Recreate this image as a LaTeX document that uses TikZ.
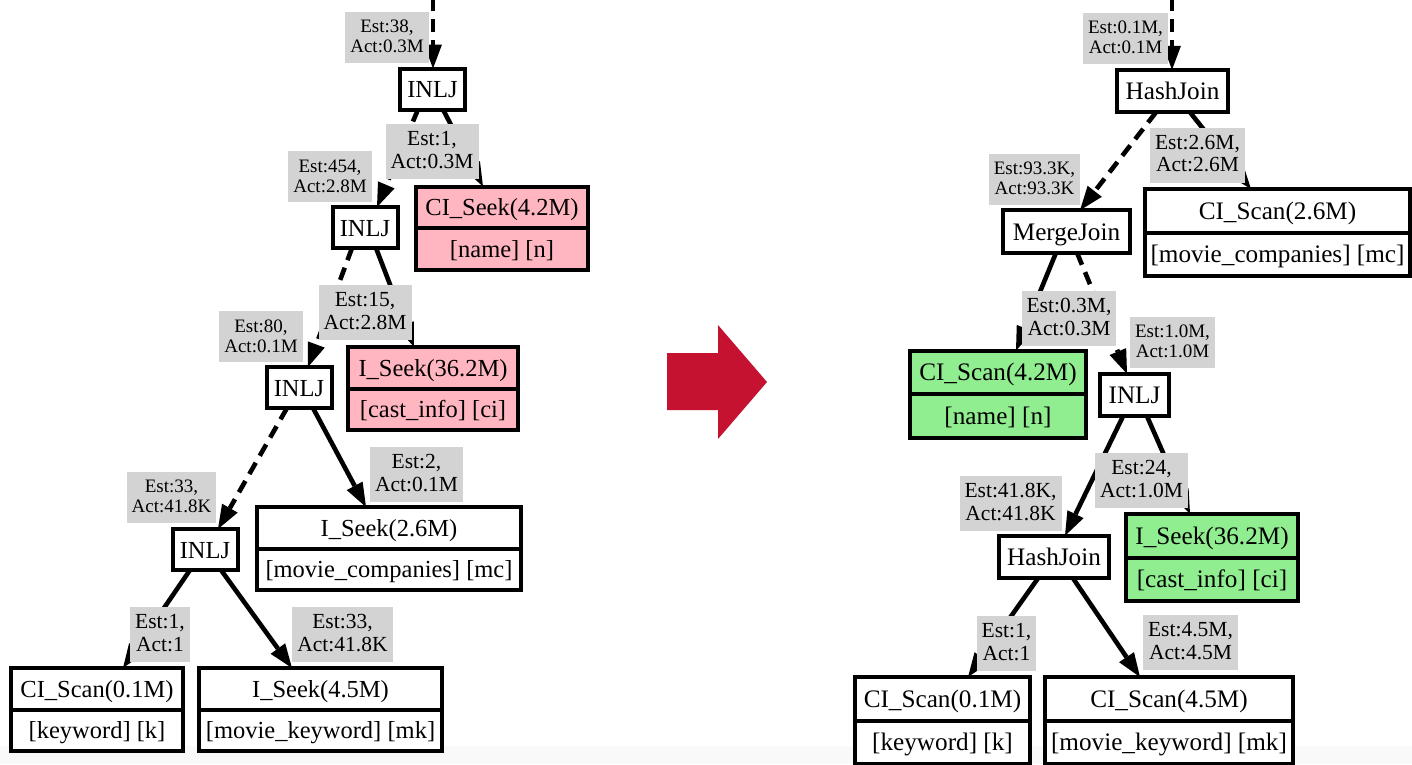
\documentclass[tikz,border=0pt]{standalone}
\usepackage{fontspec}
\setmainfont{Liberation Serif}
\newfontfamily\planfont{Liberation Serif}
\usetikzlibrary{arrows.meta}

\definecolor{seekpink}{HTML}{FFB6C1}
\definecolor{scangreen}{HTML}{90EE90}
\definecolor{estgray}{HTML}{D3D3D3}
\definecolor{turnred}{HTML}{C41230}
\definecolor{footgray}{HTML}{F9F9F9}

% struts that fix the first-line height and last-line depth of the estimate labels
\newcommand{\estrowS}{\rule[-1.4pt]{0pt}{14pt}}
\newcommand{\estrowL}{\rule[-3pt]{0pt}{15pt}}

\begin{document}
\begin{tikzpicture}[x=1pt, y=-1pt,
  box/.style={draw=black, line width=4pt, fill=white, inner sep=0pt, outer sep=0pt,
              text height=20pt, text depth=3pt},
  opL/.style={box, minimum width=65pt, minimum height=41pt, font=\planfont\fontsize{24.5}{26}\selectfont},
  opR/.style={box, minimum width=#1, minimum height=42.5pt, font=\planfont\fontsize{25.2}{27}\selectfont},
  recL/.style={box, minimum width=#1, minimum height=41.5pt, font=\planfont\fontsize{24.5}{26}\selectfont},
  recR/.style={box, minimum width=#1, minimum height=43.5pt, font=\planfont\fontsize{25.2}{27}\selectfont},
  est/.style={fill=estgray, inner xsep=5pt, inner ysep=0pt, align=center, text=black},
  estS/.style={est, minimum height=51pt, font=\planfont\fontsize{19}{20}\selectfont},
  estL/.style={est, minimum height=55pt, font=\planfont\fontsize{21.5}{22.5}\selectfont},
  flow/.style={line width=4.6pt, -{Triangle[length=24pt, width=18pt, line width=0pt]}},
  inner/.style={flow, dash pattern=on 13pt off 8pt}
]
\fill[white] (0,0) rectangle (1412,764);
\fill[footgray] (0,746) rectangle (1412,764);
\useasboundingbox (0,0) rectangle (1412,764);
\clip (0,0) rectangle (1412,764);

% ---------------- left plan ----------------
\node[opL] (inljA) at (432.5,89) {INLJ};
\node[opL] (inljB) at (365,227.5) {INLJ};
\node[opL] (inljC) at (299,387.5) {INLJ};
\node[opL] (inljD) at (205,549.5) {INLJ};

\node[recL=172pt, fill=seekpink] (nameSeek) at (502,207.25) {CI\_Seek(4.2M)};
\node[recL=172pt, fill=seekpink, anchor=north] (nameSeekT) at (nameSeek.south) {[name] [n]};
\node[recL=170pt, fill=seekpink] (castSeek) at (433,367.75) {I\_Seek(36.2M)};
\node[recL=170pt, fill=seekpink, anchor=north] (castSeekT) at (castSeek.south) {[cast\_info] [ci]};
\node[recL=264pt] (mcSeek) at (389,527.75) {I\_Seek(2.6M)};
\node[recL=264pt, anchor=north] (mcSeekT) at (mcSeek.south) {[movie\_companies] [mc]};
\node[recL=172pt] (kwScanL) at (97,688.75) {CI\_Scan(0.1M)};
\node[recL=172pt, anchor=north] (kwScanLT) at (kwScanL.south) {[keyword] [k]};
\node[recL=243pt] (mkSeek) at (320.5,688.75) {I\_Seek(4.5M)};
\node[recL=243pt, anchor=north] (mkSeekT) at (mkSeek.south) {[movie\_keyword] [mk]};

\coordinate (feedL) at (433,-2);
\draw[inner] (feedL) -- ([xshift=0.5pt]inljA.north);
\draw[flow]  ([xshift=10.5pt]inljA.south) -- ([xshift=-19pt]nameSeek.north);
\draw[inner] ([xshift=-14.5pt]inljA.south) -- ([xshift=12pt]inljB.north);
\draw[flow]  ([xshift=11pt]inljB.south) -- ([xshift=-19pt]castSeek.north);
\draw[inner] ([xshift=-13pt]inljB.south) -- ([xshift=9pt]inljC.north);
\draw[flow]  ([xshift=14pt]inljC.south) -- ([xshift=-23pt]mcSeek.north);
\draw[inner] ([xshift=-12pt]inljC.south) -- ([xshift=13pt]inljD.north);
\draw[flow]  ([xshift=-15pt]inljD.south) -- ([xshift=26pt]kwScanL.north);
\draw[flow]  ([xshift=16pt]inljD.south) -- ([xshift=-28.5pt]mkSeek.north);

\node[estS] (estA) at (387,37)      {\estrowS Est:38,\\\estrowS Act:0.3M};
\node[estL] (estB) at (432,151.5)   {\estrowL Est:1,\\\estrowL Act:0.3M};
\node[estS] (estC) at (330,176.5)   {\estrowS Est:454,\\\estrowS Act:2.8M};
\node[estL] (estD) at (365,312.5)   {\estrowL Est:15,\\\estrowL Act:2.8M};
\node[estS] (estE) at (261,336.5)   {\estrowS Est:80,\\\estrowS Act:0.1M};
\node[estL] (estF) at (416.5,474.5) {\estrowL Est:2,\\\estrowL Act:0.1M};
\node[estS] (estG) at (171.5,497)   {\estrowS Est:33,\\\estrowS Act:41.8K};
\node[estL] (estH) at (160,634.5)   {\estrowL Est:1,\\\estrowL Act:1};
\node[estL] (estI) at (342.5,634.5) {\estrowL Est:33,\\\estrowL Act:41.8K};

% ---------------- rewrite arrow ----------------
\fill[turnred] (667,353) -- (718,353) -- (718,325) -- (767,382) -- (718,439) -- (718,410) -- (667,410) -- cycle;

% ---------------- right plan ----------------
\node[opR=111pt] (hashA) at (1172.5,91) {HashJoin};
\node[opR=127pt] (merge) at (1066.5,231.5) {MergeJoin};
\node[opR=69pt]  (inljR) at (1134.5,395) {INLJ};
\node[opR=110pt] (hashB) at (1054,557) {HashJoin};

\node[recR=265pt] (mcScan) at (1277.5,210.75) {CI\_Scan(2.6M)};
\node[recR=265pt, anchor=north] (mcScanT) at (mcScan.south) {[movie\_companies] [mc]};
\node[recR=176pt, fill=scangreen] (nameScan) at (998,372.25) {CI\_Scan(4.2M)};
\node[recR=176pt, fill=scangreen, anchor=north] (nameScanT) at (nameScan.south) {[name] [n]};
\node[recR=172pt, fill=scangreen] (castSeekR) at (1212,535.75) {I\_Seek(36.2M)};
\node[recR=172pt, fill=scangreen, anchor=north] (castSeekRT) at (castSeekR.south) {[cast\_info] [ci]};
\node[recR=175pt] (kwScanR) at (942.5,698.75) {CI\_Scan(0.1M)};
\node[recR=175pt, anchor=north] (kwScanRT) at (kwScanR.south) {[keyword] [k]};
\node[recR=248pt] (mkScan) at (1169,698.75) {CI\_Scan(4.5M)};
\node[recR=248pt, anchor=north] (mkScanT) at (mkScan.south) {[movie\_keyword] [mk]};

\coordinate (feedR) at (1172,-2);
\draw[inner] (feedR) -- ([xshift=-0.5pt]hashA.north);
\draw[inner] ([xshift=-16.5pt]hashA.south) -- ([xshift=13.5pt]merge.north);
\draw[flow]  ([xshift=17.5pt]hashA.south) -- ([xshift=-26.5pt]mcScan.north);
\draw[flow]  ([xshift=-10.5pt]merge.south) -- ([xshift=18pt]nameScan.north);
\draw[inner] ([xshift=10.5pt]merge.south) -- ([xshift=-7.5pt]inljR.north);
\draw[flow]  ([xshift=-11.5pt]inljR.south) -- ([xshift=11pt]hashB.north);
\draw[flow]  ([xshift=12.5pt]inljR.south) -- ([xshift=-22pt]castSeekR.north);
\draw[flow]  ([xshift=-16pt]hashB.south) -- ([xshift=25.5pt]kwScanR.north);
\draw[flow]  ([xshift=19pt]hashB.south) -- ([xshift=-29pt]mkScan.north);

\node[estS] (estJ) at (1125.5,38)   {\estrowS Est:0.1M,\\\estrowS Act:0.1M};
\node[estL] (estK) at (1197.5,155)  {\estrowL Est:2.6M,\\\estrowL Act:2.6M};
\node[estS] (estM) at (1034.5,179)  {\estrowS Est:93.3K,\\\estrowS Act:93.3K};
\node[estL] (estN) at (1069,318.5)  {\estrowL Est:0.3M,\\\estrowL Act:0.3M};
\node[estS] (estO) at (1172.5,342)  {\estrowS Est:1.0M,\\\estrowS Act:1.0M};
\node[estL] (estP) at (1010.5,503.5) {\estrowL Est:41.8K,\\\estrowL Act:41.8K};
\node[estL] (estQ) at (1141.5,480.5) {\estrowL Est:24,\\\estrowL Act:1.0M};
\node[estL] (estR) at (1006.5,643.5) {\estrowL Est:1,\\\estrowL Act:1};
\node[estL] (estT) at (1190.5,642.5) {\estrowL Est:4.5M,\\\estrowL Act:4.5M};
\end{tikzpicture}
\end{document}
